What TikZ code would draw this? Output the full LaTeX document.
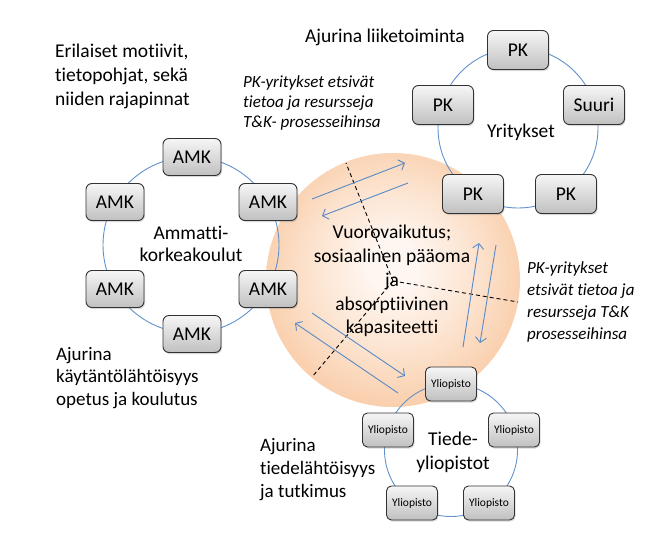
\documentclass[tikz,border=0pt]{standalone}
\usepackage{fontspec}
\setmainfont{Carlito}[Ligatures=NoCommon]
\usetikzlibrary{arrows.meta,shadows}
\definecolor{ringblue}{RGB}{98,146,204}
\definecolor{arrowblue}{RGB}{88,138,200}
\definecolor{peachin}{RGB}{254,246,240}
\definecolor{peachmid}{RGB}{252,226,205}
\definecolor{peachout}{RGB}{249,203,166}
\definecolor{boxtop}{RGB}{246,246,246}
\definecolor{boxbot}{RGB}{192,192,192}
\definecolor{boxline}{RGB}{50,50,50}
\pgfdeclareradialshading{peachshade}{\pgfpoint{0bp}{3bp}}{%
  color(0bp)=(peachin); color(5bp)=(peachin); color(17bp)=(peachmid); color(28bp)=(peachout); color(50bp)=(peachout)}
\tikzset{
  box/.style={draw=boxline, line width=0.9pt, rounded corners=6pt,
    top color=boxtop, bottom color=boxbot, inner sep=0pt,
    drop shadow={shadow xshift=1pt, shadow yshift=-1.5pt, opacity=0.3}},
  amkbox/.style={box, minimum width=58pt, minimum height=37pt,
    font={\fontsize{19.5}{23}\selectfont}},
  pkbox/.style={box, minimum width=61pt, minimum height=39pt,
    font={\fontsize{19.5}{23}\selectfont}},
  ylbox/.style={box, rounded corners=5pt, minimum width=51pt, minimum height=34pt,
    font={\fontsize{11.5}{13}\selectfont}},
  ring/.style={circle, draw=ringblue, line width=0.9pt, inner sep=0pt},
  flow/.style={draw=arrowblue, line width=0.9pt, -{Straight Barb[length=5pt,width=11pt]}},
  border/.style={draw=black, line width=0.9pt, dash pattern=on 4pt off 3pt},
  lbl/.style={inner sep=0pt, anchor=west, align=left},
}
\begin{document}
\begin{tikzpicture}[x=1pt,y=-1pt]
\useasboundingbox (0,0) rectangle (669,554);

% central circle
\node[circle, minimum size=254pt, inner sep=0pt, shading=peachshade] (core) at (393,280) {};

% rings
\node[ring, minimum size=176pt] (amkring) at (191,245) {};
\node[ring, minimum size=160pt] (yring) at (518,128) {};
\node[ring, minimum size=133pt] (ulring) at (451,450) {};

% dashed borders
\coordinate (mid) at (393,281);
\coordinate (dA) at (346,163);
\coordinate (dB) at (312,377);
\coordinate (dC) at (518,302);
\draw[border] (mid) -- (dA);
\draw[border] (mid) -- (dB);
\draw[border] (mid) -- (dC);

% arrows
\coordinate (a1s) at (312,199); \coordinate (a1e) at (405,163);
\coordinate (a2s) at (408,183); \coordinate (a2e) at (322,216);
\coordinate (a3s) at (463,347); \coordinate (a3e) at (479,243);
\coordinate (a4s) at (496,245); \coordinate (a4e) at (480,343);
\coordinate (a5s) at (312,313); \coordinate (a5e) at (405,376);
\coordinate (a6s) at (398,393); \coordinate (a6e) at (295,323);
\draw[flow] (a1s) -- (a1e);
\draw[flow] (a2s) -- (a2e);
\draw[flow] (a3s) -- (a3e);
\draw[flow] (a4s) -- (a4e);
\draw[flow] (a5s) -- (a5e);
\draw[flow] (a6s) -- (a6e);

% AMK nodes
\node[amkbox] (amk1) at (192,157) {AMK};
\node[amkbox] (amk2) at (115,202) {AMK};
\node[amkbox] (amk3) at (268,202) {AMK};
\node[amkbox] (amk4) at (115,289) {AMK};
\node[amkbox] (amk5) at (268,289) {AMK};
\node[amkbox] (amk6) at (192,334) {AMK};

% company nodes
\node[pkbox] (pk1) at (518,50) {PK};
\node[pkbox] (pk2) at (443,105) {PK};
\node[pkbox] (suuri) at (594,105) {Suuri};
\node[pkbox] (pk3) at (473,194) {PK};
\node[pkbox] (pk4) at (566,194) {PK};

% university nodes
\node[ylbox] (yl1) at (451,384) {Yliopisto};
\node[ylbox] (yl2) at (388,430) {Yliopisto};
\node[ylbox] (yl3) at (514,430) {Yliopisto};
\node[ylbox] (yl4) at (412,503) {Yliopisto};
\node[ylbox] (yl5) at (489,503) {Yliopisto};

% ring titles
\node[inner sep=0pt, align=center, font={\fontsize{19.5}{22}\selectfont}] (amktitle) at (191,244) {Ammatti-\\korkeakoulut};
\node[inner sep=0pt, font={\fontsize{19.5}{22}\selectfont}] (ytitle) at (521,132) {Yritykset};
\node[inner sep=0pt, align=center, font={\fontsize{19.5}{24}\selectfont}] (ultitle) at (453,452) {Tiede-\\yliopistot};

% central text
\node[inner sep=0pt, align=center, font={\fontsize{19.5}{23.8}\selectfont}] (coretext) at (392,281)
  {Vuorovaikutus;\\sosiaalinen pääoma\\ja\\absorptiivinen\\kapasiteetti};

% labels
\node[lbl, font={\fontsize{19.5}{24}\selectfont}] (motiivit) at (55,76)
  {Erilaiset motiivit,\\tietopohjat, sekä\\niiden rajapinnat};
\node[lbl, font={\fontsize{19.5}{24}\selectfont}] (liike) at (305,37) {Ajurina liiketoiminta};
\node[lbl, font={\fontsize{17}{20}\selectfont\itshape}] (pktop) at (243,103)
  {PK-yritykset etsivät\\tietoa ja resursseja\\T\&K- prosesseihinsa};
\node[lbl, font={\fontsize{17}{21.7}\selectfont\itshape}] (pkright) at (527,302)
  {PK-yritykset\\etsivät tietoa ja\\resursseja T\&K\\prosesseihinsa};
\node[lbl, font={\fontsize{19}{22.7}\selectfont}] (kaytanto) at (56,378)
  {Ajurina\\käytäntölähtöisyys\\opetus ja koulutus};
\node[lbl, font={\fontsize{19}{23}\selectfont}] (tiede) at (260,470)
  {Ajurina\\tiedelähtöisyys\\ja tutkimus};
\end{tikzpicture}
\end{document}
